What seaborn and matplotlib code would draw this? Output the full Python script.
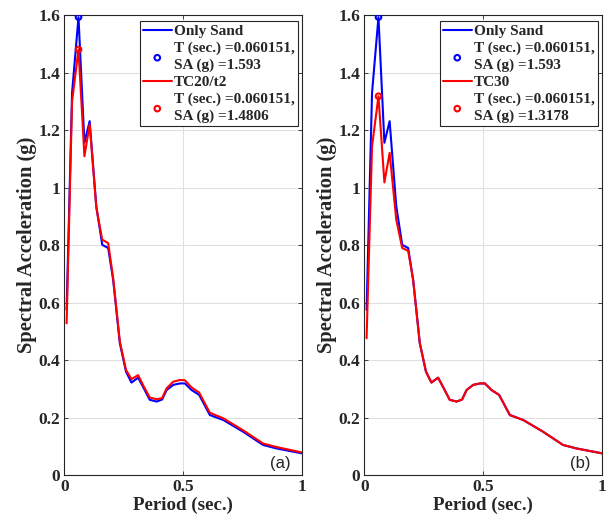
import matplotlib
matplotlib.use("Agg")
import matplotlib.pyplot as plt
import seaborn as sns
import numpy as np

# periods (sec.)
period = [0.01, 0.033, 0.06, 0.085, 0.107, 0.135, 0.16, 0.185, 0.206, 0.234,
          0.26, 0.283, 0.311, 0.335, 0.36, 0.389, 0.412, 0.431, 0.459, 0.487,
          0.508, 0.536, 0.568, 0.613, 0.669, 0.753, 0.837, 0.893, 1.0]

# spectral acceleration (g)
only_sand = [0.575, 1.33, 1.593, 1.156, 1.231, 0.935, 0.801, 0.79, 0.679, 0.459,
             0.36, 0.322, 0.339, 0.302, 0.262, 0.256, 0.263, 0.296, 0.314, 0.319,
             0.319, 0.296, 0.279, 0.209, 0.192, 0.151, 0.105, 0.093, 0.076]
tc20_t2 = [0.528, 1.30, 1.4806, 1.109, 1.22, 0.93, 0.819, 0.807, 0.685, 0.465,
           0.366, 0.334, 0.348, 0.308, 0.27, 0.264, 0.268, 0.302, 0.325, 0.331,
           0.33, 0.305, 0.287, 0.217, 0.198, 0.156, 0.11, 0.098, 0.079]
tc30 = [0.476, 1.144, 1.3178, 1.018, 1.121, 0.888, 0.79, 0.78, 0.679, 0.459,
        0.36, 0.322, 0.339, 0.302, 0.262, 0.256, 0.263, 0.296, 0.314, 0.319,
        0.319, 0.296, 0.279, 0.209, 0.192, 0.151, 0.105, 0.093, 0.076]

peak_t = 0.060151
panels = [
    ("TC20/t2", tc20_t2, 1.4806, "(a)"),
    ("TC30", tc30, 1.3178, "(b)"),
]

sns.set_style("whitegrid")
plt.rcParams["font.family"] = ["Liberation Serif", "DejaVu Serif"]
plt.rcParams["font.weight"] = "bold"

fig = plt.figure(figsize=(6.06, 5.21), dpi=100)
lefts = [0.106, 0.601]

for i, (name, vals, peak, tag) in enumerate(panels):
    ax = fig.add_axes([lefts[i], 0.088, 0.392, 0.883])
    sns.lineplot(x=period, y=only_sand, ax=ax, color="blue", lw=1.5, sort=False,
                 label="Only Sand")
    sns.scatterplot(x=[peak_t], y=[1.593], ax=ax, marker="o", s=16,
                    facecolor="none", edgecolor="blue", linewidth=1.5,
                    label="T (sec.) =0.060151,\nSA (g) =1.593", zorder=5)
    sns.lineplot(x=period, y=vals, ax=ax, color="red", lw=1.5, sort=False,
                 label=name)
    sns.scatterplot(x=[peak_t], y=[peak], ax=ax, marker="o", s=16,
                    facecolor="none", edgecolor="red", linewidth=1.5,
                    label="T (sec.) =0.060151,\nSA (g) =%s" % peak, zorder=5)

    # legend in MATLAB order: line, its peak marker, line, its peak marker
    h, l = ax.get_legend_handles_labels()
    order = [l.index("Only Sand"), l.index("T (sec.) =0.060151,\nSA (g) =1.593"),
             l.index(name), l.index("T (sec.) =0.060151,\nSA (g) =%s" % peak)]
    leg = ax.legend([h[k] for k in order], [l[k] for k in order],
                    loc="upper right", bbox_to_anchor=(0.997, 0.993),
                    fontsize=11, frameon=True, fancybox=False,
                    edgecolor="#262626", framealpha=1, handlelength=1.9,
                    handletextpad=0.15, borderpad=0.2, labelspacing=0.2,
                    borderaxespad=0.2)
    leg.get_frame().set_linewidth(0.8)
    for t in leg.get_texts():
        t.set_linespacing(1.4)

    ax.set_xlim(0, 1)
    ax.set_ylim(0, 1.6)
    ax.set_xticks([0, 0.5, 1])
    ax.set_xticklabels(["0", "0.5", "1"])
    ax.set_yticks(np.arange(0, 1.61, 0.2))
    ax.set_yticklabels(["0", "0.2", "0.4", "0.6", "0.8", "1", "1.2", "1.4", "1.6"])
    ax.tick_params(labelsize=12.5, direction="in", length=3, width=0.6,
                   top=True, right=True, bottom=True, left=True,
                   colors="#262626", pad=3)
    for lab in ax.get_xticklabels() + ax.get_yticklabels():
        lab.set_fontweight("bold")
    ax.grid(True, color="#e0e0e0", lw=0.8)
    for sp in ax.spines.values():
        sp.set_color("#262626")
        sp.set_linewidth(0.8)
    ax.set_xlabel("Period (sec.)", fontsize=13.6, fontweight="bold", labelpad=1)
    ax.set_ylabel("Spectral Acceleration (g)", fontsize=14.8, fontweight="bold",
                  labelpad=1)
    ax.text(0.952, 0.01, tag, transform=ax.transAxes, ha="right", va="bottom",
            fontsize=12, fontweight="normal", family=["Liberation Sans"])

fig.savefig("out.png", dpi=100)
